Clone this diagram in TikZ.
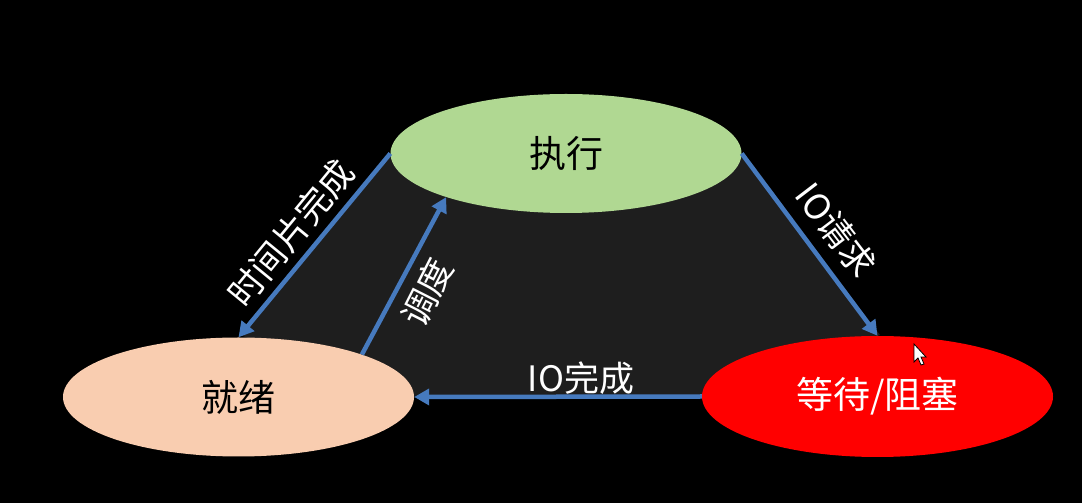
\documentclass[tikz,border=0pt]{standalone}
\usepackage{fontspec}
\setmainfont{Noto Sans CJK SC}
\usetikzlibrary{shapes.geometric,arrows.meta}
\definecolor{bgblack}{RGB}{0,0,0}
\definecolor{panel}{RGB}{30,30,30}
\definecolor{arrowblue}{RGB}{70,122,190}
\definecolor{execgreen}{RGB}{176,216,146}
\definecolor{readypeach}{RGB}{249,205,176}
\definecolor{waitred}{RGB}{255,0,0}
\tikzset{
  state/.style={ellipse, inner sep=0pt, minimum width=351pt, minimum height=119pt, font=\fontsize{37}{40}\selectfont},
  trans/.style={draw=arrowblue, line width=4.5pt, -{Triangle[length=15pt,width=16pt]}},
  translabel/.style={text=white, inner sep=0pt, font=\fontsize{35}{38}\selectfont}
}
\begin{document}
\begin{tikzpicture}[x=1pt,y=1pt]
\useasboundingbox[fill=bgblack] (0,0) rectangle (1082,503);
% dark panel between the states
\fill[panel] (390,348) -- (742,348) -- (880,168) -- (702,105) -- (415,105) -- (240,168) -- cycle;
% states
\node[state, fill=execgreen, text=black] (exec) at (566,349.5) {执行};
\node[state, fill=readypeach, text=black] (ready) at (238.5,106) {就绪};
\node[state, fill=waitred, text=white, minimum height=121pt] (wait) at (877.5,106.5) {等待/阻塞};
% transitions
\draw[trans] (exec.west) -- (ready.north);
\draw[trans] (ready.19) -- (exec.200);
\draw[trans] (exec.east) -- (wait.north);
\draw[trans] (wait.west) -- (ready.east);
% labels
\node[translabel, rotate=50.6] (l1) at (291,270) {时间片完成};
\node[translabel, rotate=63.1] (l2) at (427,211) {调度};
\node[translabel, rotate=-52.6] (l3) at (836,273) {IO请求};
\node[translabel] (l4) at (581,125) {IO完成};
% mouse pointer
\filldraw[fill=white, draw=black, line width=0.8pt]
  (914,159) -- (914,141) -- (918,145) -- (921,138) -- (924,139) -- (921,146) -- (926,146) -- cycle;
\end{tikzpicture}
\end{document}
